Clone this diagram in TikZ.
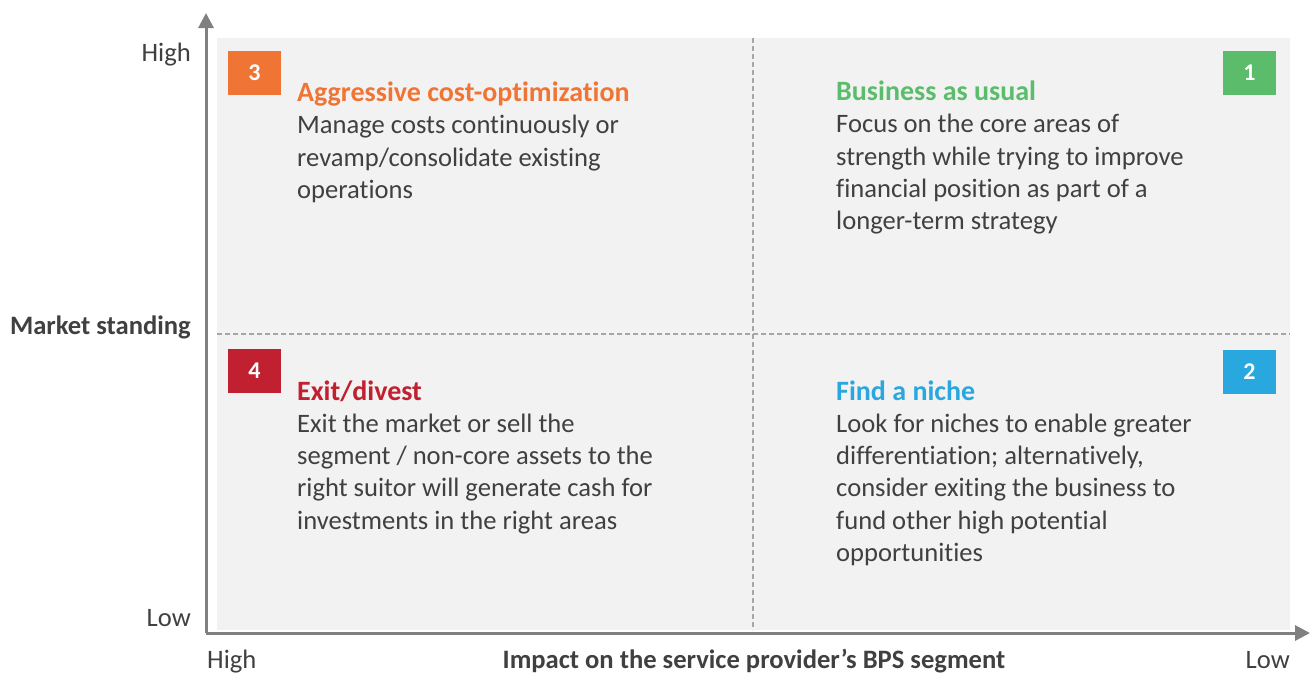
\documentclass[tikz,border=0pt]{standalone}
\usepackage{fontspec}
\setmainfont{Carlito}[Ligatures=NoCommon]
\usetikzlibrary{arrows.meta}
\definecolor{panel}{HTML}{F2F2F2}
\definecolor{axisgray}{HTML}{808080}
\definecolor{dashgray}{HTML}{A6A6A6}
\definecolor{txt}{HTML}{404040}
\definecolor{qorange}{HTML}{F07534}
\definecolor{qgreen}{HTML}{5BBD6B}
\definecolor{qred}{HTML}{C0202F}
\definecolor{qblue}{HTML}{29A7DF}
\newcommand{\qtitle}[2]{{\fontsize{28}{32.3}\selectfont\bfseries\color{#1}#2}}
\tikzset{
  axis/.style={draw=axisgray, line width=3pt, -{Triangle[length=15pt,width=15pt]}},
  divider/.style={draw=dashgray, line width=1.3pt, dash pattern=on 5pt off 3pt},
  badge/.style={fill=#1, minimum width=53pt, minimum height=44pt, inner sep=0pt,
    text=white, font=\fontsize{24}{26}\selectfont\bfseries},
  quadtext/.style={anchor=base west, inner sep=0pt, align=left, text=txt,
    font=\fontsize{26.6}{32.3}\selectfont},
  axlabel/.style={inner sep=0pt, text=txt, font=\fontsize{26.6}{30}\selectfont},
  axtitle/.style={inner sep=0pt, text=txt, font=\fontsize{26.6}{30}\selectfont\bfseries}
}
\begin{document}
\begin{tikzpicture}[x=1pt,y=-1pt]
\useasboundingbox (0,0) rectangle (1313,673);
% panel
\fill[panel] (217,38) rectangle (1290,630);
% dividers
\coordinate (vtop) at (753,38);
\coordinate (vbot) at (753,630);
\coordinate (hleft) at (217,334);
\coordinate (hright) at (1290,334);
\draw[divider] (vtop) -- (vbot);
\draw[divider] (hleft) -- (hright);
% axes
\coordinate (origin) at (206,633);
\coordinate (ytip) at (206,13);
\coordinate (xtip) at (1310,633);
\draw[axis] (origin) -- (ytip);
\draw[axis] (origin) -- (xtip);
% badges
\node[badge=qorange] (b3) at (254.5,72.5) {3};
\node[badge=qgreen] (b1) at (1249.5,73) {1};
\node[badge=qred] (b4) at (254.5,371) {4};
\node[badge=qblue] (b2) at (1249.5,371.5) {2};
% quadrant texts (base anchor = baseline of last line)
\node[quadtext] (q3) at (297,198.4) {\qtitle{qorange}{Aggressive cost-optimization}\\Manage costs continuously or\\revamp/consolidate existing\\operations};
\node[quadtext] (q1) at (836,229.7) {\qtitle{qgreen}{Business as usual}\\Focus on the core areas of\\strength while trying to improve\\financial position as part of a\\longer-term strategy};
\node[quadtext] (q4) at (297,529.2) {\qtitle{qred}{Exit/divest}\\Exit the market or sell the\\segment / non-core assets to the\\right suitor will generate cash for\\investments in the right areas};
\node[quadtext] (q2) at (836,561.5) {\qtitle{qblue}{Find a niche}\\Look for niches to enable greater\\differentiation; alternatively,\\consider exiting the business to\\fund other high potential\\opportunities};
% axis labels
\node[axlabel, anchor=base east] (yhigh) at (191,61.5) {High};
\node[axlabel, anchor=base east] (ylow) at (191,626.5) {Low};
\node[axlabel, anchor=base west] (xhigh) at (207,668) {High};
\node[axlabel, anchor=base east] (xlow) at (1290,668) {Low};
\node[axtitle, anchor=base east] (ytitle) at (191,334.5) {Market standing};
\node[axtitle, anchor=base] (xtitle) at (754,668) {Impact on the service provider’s BPS segment};
\end{tikzpicture}
\end{document}
